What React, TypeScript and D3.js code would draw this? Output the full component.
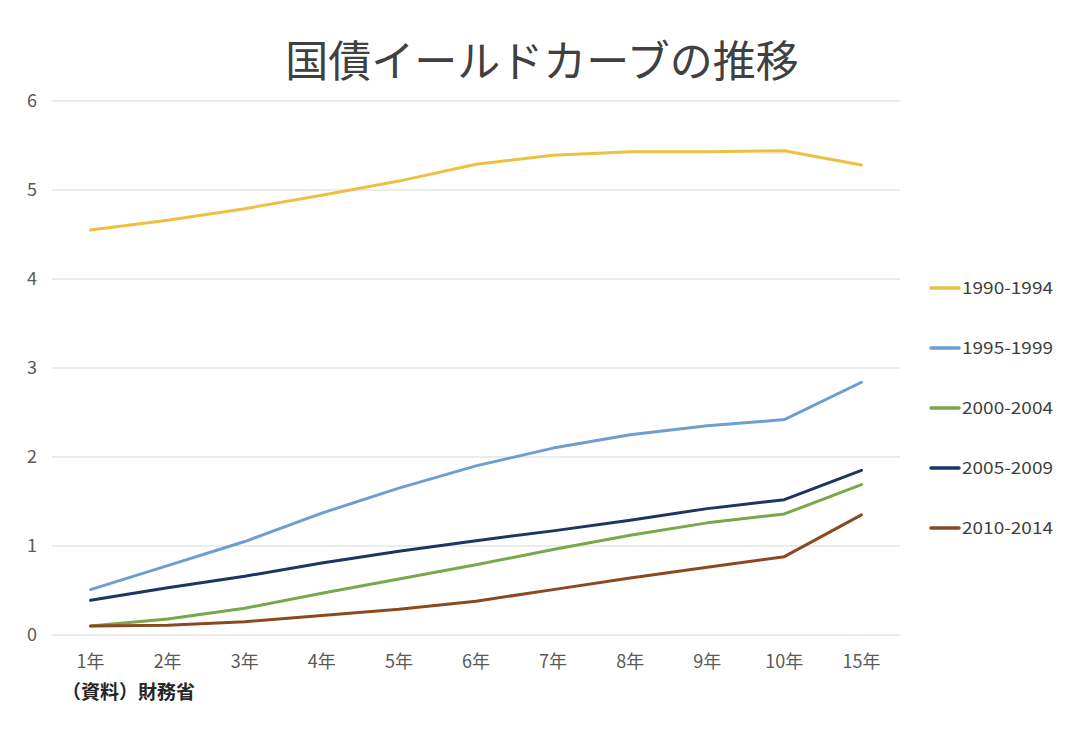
import React from "react";
import * as d3 from "d3";

const categories = ["1年", "2年", "3年", "4年", "5年", "6年", "7年", "8年", "9年", "10年", "15年"];
const seriesNames = ["1990-1994", "1995-1999", "2000-2004", "2005-2009", "2010-2014"];
const s1990 = [4.55, 4.66, 4.79, 4.94, 5.1, 5.29, 5.39, 5.43, 5.43, 5.44, 5.28];
const s1995 = [0.51, 0.78, 1.05, 1.37, 1.65, 1.9, 2.1, 2.25, 2.35, 2.42, 2.84];
const s2000 = [0.1, 0.18, 0.3, 0.47, 0.63, 0.79, 0.96, 1.12, 1.26, 1.36, 1.69];
const s2005 = [0.39, 0.53, 0.66, 0.81, 0.94, 1.06, 1.17, 1.29, 1.42, 1.52, 1.85];
const s2010 = [0.1, 0.11, 0.15, 0.22, 0.29, 0.38, 0.51, 0.64, 0.76, 0.88, 1.35];
const colors = ["#EDC041", "#6E9ED0", "#77A84B", "#1E3461", "#8A4A1F"];
const yTicks = [0, 1, 2, 3, 4, 5, 6];

const W = 1080;
const H = 747;
const M = { left: 52, right: 900, top: 101, bottom: 635 };

export default function App() {
  const series = [s1990, s1995, s2000, s2005, s2010];
  const x = d3.scaleBand<string>().domain(categories).range([M.left, M.right]);
  const y = d3.scaleLinear().domain([0, 6]).range([M.bottom, M.top]);
  const line = d3
    .line<number>()
    .x((_, i) => (x(categories[i]) as number) + x.bandwidth() / 2)
    .y((d) => y(d));
  const font = "'Noto Sans CJK JP', 'Noto Sans', sans-serif";
  return (
    <svg width={W} height={H} style={{ position: "absolute", left: 0, top: 0, background: "#fff" }} fontFamily={font}>
      <rect width={W} height={H} fill="#fff" />
      <text x={542} y={77} textAnchor="middle" fontSize={43} fill="#404040">
        国債イールドカーブの推移
      </text>
      {yTicks.map((t) => (
        <g key={t}>
          <line x1={M.left} x2={M.right} y1={y(t)} y2={y(t)} stroke="#d9d9d9" strokeWidth={1} />
          <text x={32} y={y(t)} dy="0.35em" textAnchor="middle" fontSize={18} fill="#595959">
            {t}
          </text>
        </g>
      ))}
      {categories.map((c) => (
        <text
          key={c}
          x={(x(c) as number) + x.bandwidth() / 2}
          y={668}
          textAnchor="middle"
          fontSize={18}
          fill="#595959"
        >
          {c}
        </text>
      ))}
      <text x={62} y={699} fontSize={19} fill="#262626" fontWeight="bold">
        （資料）財務省
      </text>
      {series.map((s, i) => (
        <path
          key={seriesNames[i]}
          d={line(s) as string}
          fill="none"
          stroke={colors[i]}
          strokeWidth={3}
          strokeLinejoin="round"
          strokeLinecap="round"
        />
      ))}
      {seriesNames.map((n, i) => {
        const ly = 288 + i * 60;
        return (
          <g key={n}>
            <line x1={931} x2={959} y1={ly} y2={ly} stroke={colors[i]} strokeWidth={3.5} strokeLinecap="round" />
            <text x={962} y={ly} dy="0.35em" fontSize={17} fill="#404040" textLength={91} lengthAdjust="spacingAndGlyphs">
              {n}
            </text>
          </g>
        );
      })}
    </svg>
  );
}
